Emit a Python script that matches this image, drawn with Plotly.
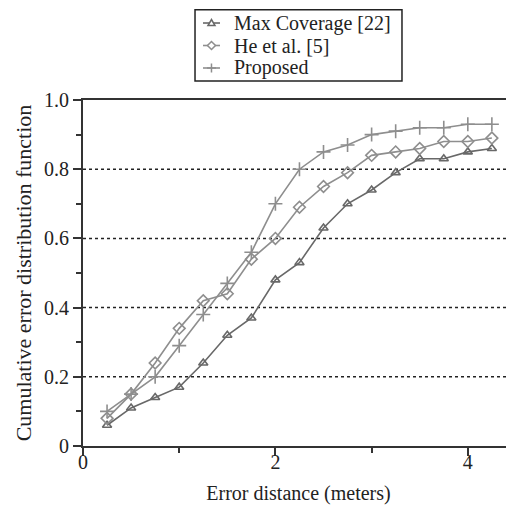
import plotly.graph_objects as go

x_vals = [0.25, 0.5, 0.75, 1.0, 1.25, 1.5, 1.75, 2.0, 2.25, 2.5, 2.75, 3.0, 3.25, 3.5, 3.75, 4.0, 4.25]
max_coverage = [0.06, 0.11, 0.14, 0.17, 0.24, 0.32, 0.37, 0.48, 0.53, 0.63, 0.70, 0.74, 0.79, 0.83, 0.83, 0.85, 0.86]
he_et_al = [0.08, 0.15, 0.24, 0.34, 0.42, 0.44, 0.54, 0.60, 0.69, 0.75, 0.79, 0.84, 0.85, 0.86, 0.88, 0.88, 0.89]
proposed = [0.10, 0.15, 0.20, 0.29, 0.38, 0.47, 0.56, 0.70, 0.80, 0.85, 0.87, 0.90, 0.91, 0.92, 0.92, 0.93, 0.93]
series_names = ["Max Coverage [22]", "He et al. [5]", "Proposed"]
series_colors = ["#686868", "#8e8e8e", "#8e8e8e"]

y_tickvals = [0, 0.2, 0.4, 0.6, 0.8, 1.0]
y_ticktext = ["0", "0.2", "0.4", "0.6", "0.8", "1.0"]
x_tickvals = [0, 2, 4]
x_ticktext = ["0", "2", "4"]

FONT = "Liberation Serif"
TXT = "#222222"
AX = "#333333"

fig = go.Figure()
symbols = [("triangle-up-open", 8), ("diamond-open", 9), ("cross-thin", 10)]
for name, ys, col, (sym, sz) in zip(series_names, [max_coverage, he_et_al, proposed], series_colors, symbols):
    fig.add_trace(go.Scatter(
        x=x_vals, y=ys, name=name, mode="lines+markers", showlegend=False,
        line=dict(color=col, width=1.6),
        marker=dict(symbol=sym, size=sz, color=col, line=dict(width=1.6, color=col)),
    ))

# dotted gridlines
for v in [0.2, 0.4, 0.6, 0.8]:
    fig.add_shape(type="line", xref="paper", yref="y", x0=0, x1=1, y0=v, y1=v,
                  line=dict(color="#222222", width=1.5, dash="dot"), layer="below")

# ---- hand-made legend (compact rows, as in the reference) ----
lg_x0, lg_x1, lg_y0, lg_y1 = 0.2599, 0.7401, 1.0549, 1.2610
row_y = [1.2225, 1.1575, 1.0925]
line_x0, line_x1, mark_x, text_x = 0.2784, 0.3179, 0.2981, 0.3457
fig.add_shape(type="rect", xref="paper", yref="paper", x0=lg_x0, x1=lg_x1, y0=lg_y0, y1=lg_y1,
              line=dict(color="#222222", width=1.5), fillcolor="white", layer="above")
glyph_paths = [
    "M-3.5,-2.5 L3.5,-2.5 L0,3.5 Z",
    "M0,-4 L4,0 L0,4 L-4,0 Z",
    "M-4.5,0 L4.5,0 M0,-4.5 L0,4.5",
]
for name, col, ry, gp in zip(series_names, series_colors, row_y, glyph_paths):
    fig.add_shape(type="line", xref="paper", yref="paper", x0=line_x0, x1=line_x1, y0=ry, y1=ry,
                  line=dict(color=col, width=1.6), layer="above")
    fig.add_shape(type="path", xref="paper", yref="paper", xsizemode="pixel", ysizemode="pixel",
                  xanchor=mark_x, yanchor=ry, path=gp, fillcolor="white",
                  line=dict(color=col, width=1.5), layer="above")
    fig.add_annotation(xref="paper", yref="paper", x=text_x, y=ry, xanchor="left", yanchor="middle",
                       text=name, showarrow=False, font=dict(family=FONT, size=20, color=TXT))

# the page body has an 8px margin, so the figure is made 8px smaller
fig.update_layout(
    width=506, height=498,
    margin=dict(l=75, r=0, t=92, b=60),
    paper_bgcolor="white", plot_bgcolor="white",
    font=dict(family=FONT, size=20, color=TXT),
    showlegend=False,
    xaxis=dict(
        range=[0, 4.48], showgrid=False, zeroline=False, automargin=False,
        showline=True, linecolor=AX, linewidth=2, mirror=True,
        ticks="outside", ticklen=8, tickwidth=1.5, tickcolor=AX,
        tickvals=x_tickvals, ticktext=x_ticktext, ticklabelstandoff=-11,
        minor=dict(dtick=1, tick0=0, ticks="outside", ticklen=5, tickwidth=1.5, tickcolor=AX, showgrid=False),
        title=dict(text="Error distance (meters)", font=dict(family=FONT, size=20), standoff=14),
        tickfont=dict(family=FONT, size=20),
    ),
    yaxis=dict(
        range=[0, 1.0], showgrid=False, zeroline=False, automargin=False,
        showline=True, linecolor=AX, linewidth=2,
        ticks="outside", ticklen=8, tickwidth=1.5, tickcolor=AX,
        tickvals=y_tickvals, ticktext=y_ticktext,
        minor=dict(dtick=0.1, tick0=0, ticks="outside", ticklen=5, tickwidth=1.5, tickcolor=AX, showgrid=False),
        title=dict(text="Cumulative error distribution function", font=dict(family=FONT, size=22), standoff=6),
        tickfont=dict(family=FONT, size=20),
    ),
)

fig.write_html("out.html")
